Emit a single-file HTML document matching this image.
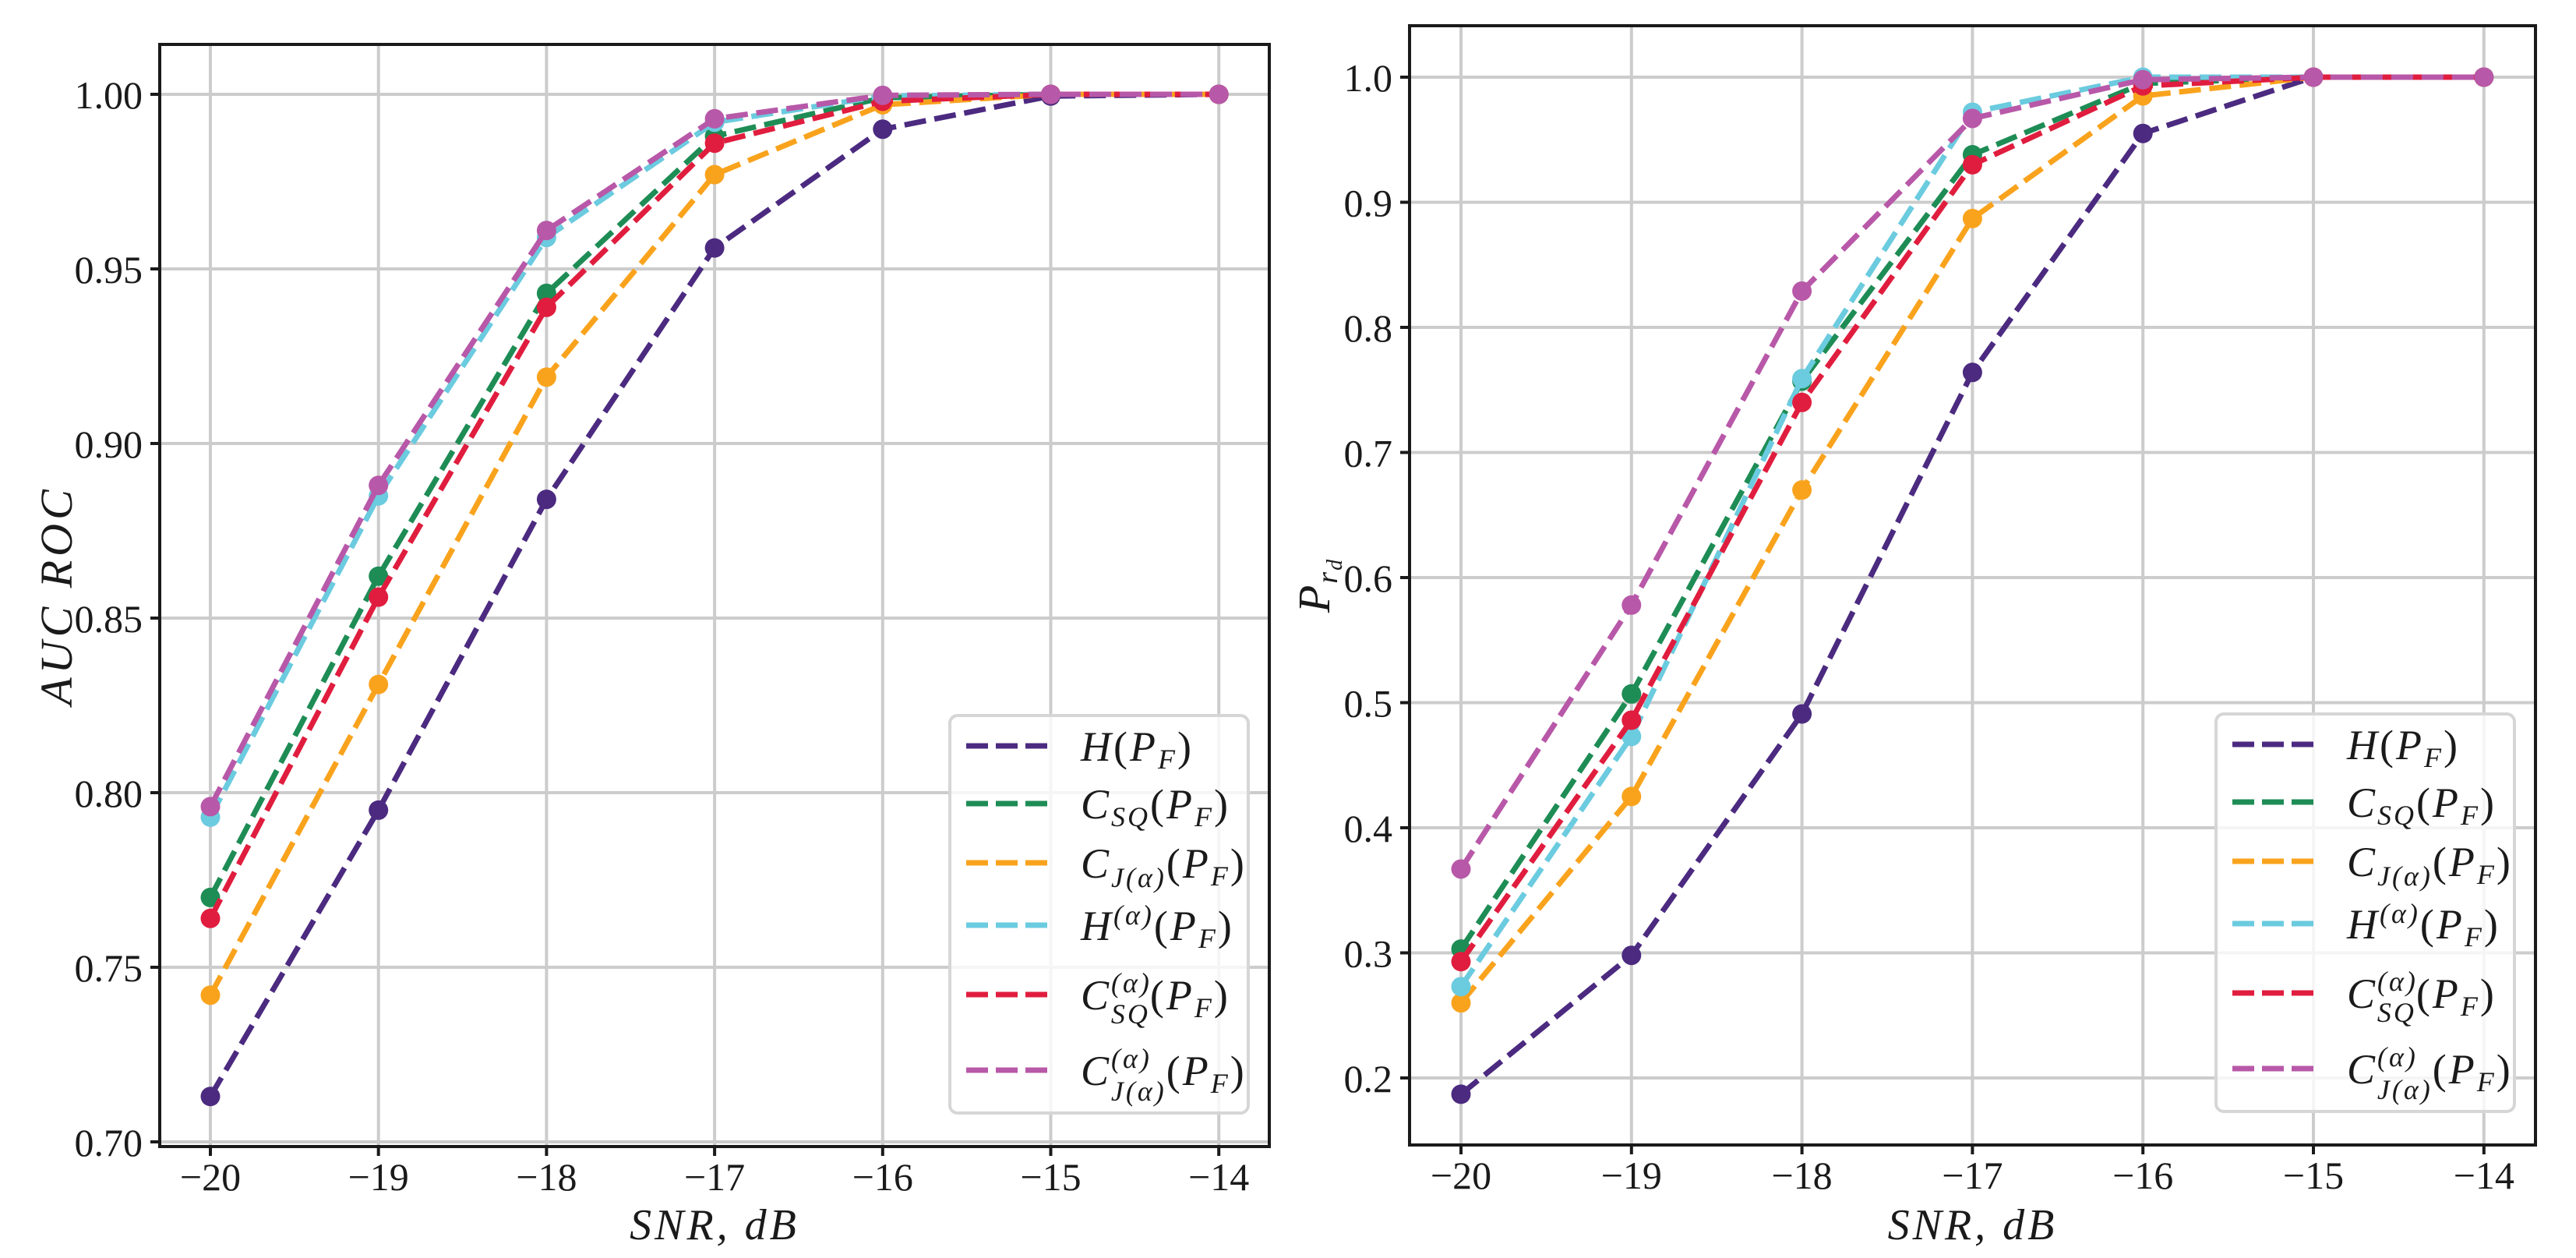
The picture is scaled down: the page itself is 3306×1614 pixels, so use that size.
<!DOCTYPE html>
<html><head><meta charset="utf-8">
<style>
html,body{margin:0;padding:0;background:#fff;}
svg{display:block;}
text{font-family:"Liberation Serif",serif;fill:#1a1a1a;}
</style></head>
<body>
<svg id="fig" width="3306" height="1614" viewBox="0 0 3306 1614" xmlns="http://www.w3.org/2000/svg">
<rect x="0" y="0" width="3306" height="1614" fill="#fff"/>
<g id="left"></g>
<g id="right"></g>
</svg>
<script>
const snr = [-20, -19, -18, -17, -16, -15, -14];
const xTicks = [-20, -19, -18, -17, -16, -15, -14];
const seriesNames = ["H", "CSQ", "CJ", "Ha", "CSQa", "CJa"];
const seriesColors = ["#4b2a80", "#1e8c55", "#f9a31d", "#6bcbdf", "#e01d3e", "#b858a8"];
const aucH    = [0.713, 0.795, 0.884, 0.956, 0.990, 0.9995, 1.0];
const aucCSQ  = [0.770, 0.862, 0.943, 0.988, 0.999, 1.0, 1.0];
const aucCJ   = [0.742, 0.831, 0.919, 0.977, 0.997, 1.0, 1.0];
const aucHa   = [0.793, 0.885, 0.959, 0.992, 0.9995, 1.0, 1.0];
const aucCSQa = [0.764, 0.856, 0.939, 0.986, 0.998, 1.0, 1.0];
const aucCJa  = [0.796, 0.888, 0.961, 0.993, 0.9997, 1.0, 1.0];
const pdH    = [0.187, 0.298, 0.491, 0.764, 0.955, 1.0, 1.0];
const pdCSQ  = [0.303, 0.507, 0.757, 0.938, 0.995, 1.0, 1.0];
const pdCJ   = [0.260, 0.425, 0.670, 0.887, 0.985, 1.0, 1.0];
const pdHa   = [0.273, 0.473, 0.759, 0.972, 1.0, 1.0, 1.0];
const pdCSQa = [0.293, 0.486, 0.740, 0.930, 0.993, 1.0, 1.0];
const pdCJa  = [0.367, 0.578, 0.829, 0.967, 0.998, 1.0, 1.0];
const aucTicks = [0.70, 0.75, 0.80, 0.85, 0.90, 0.95, 1.00];
const aucTickLabels = ["0.70", "0.75", "0.80", "0.85", "0.90", "0.95", "1.00"];
const pdTicks = [0.2, 0.3, 0.4, 0.5, 0.6, 0.7, 0.8, 0.9, 1.0];
const pdTickLabels = ["0.2", "0.3", "0.4", "0.5", "0.6", "0.7", "0.8", "0.9", "1.0"];

const NS = "http://www.w3.org/2000/svg";
function mk(parent, tag, attrs) {
  const e = document.createElementNS(NS, tag);
  for (const k in attrs) e.setAttribute(k, attrs[k]);
  parent.appendChild(e);
  return e;
}

function legendLabel(t, i, x, y) {
  const parts = {
    0: '<tspan font-style="italic">H</tspan><tspan font-style="normal">(</tspan><tspan font-style="italic">P</tspan><tspan font-size="36" dy="10" font-style="italic">F</tspan><tspan dy="-10" font-style="normal">)</tspan>',
    1: '<tspan font-style="italic">C</tspan><tspan font-size="36" dy="10" font-style="italic">SQ</tspan><tspan dy="-10" font-style="normal">(</tspan><tspan font-style="italic">P</tspan><tspan font-size="36" dy="10" font-style="italic">F</tspan><tspan dy="-10" font-style="normal">)</tspan>',
    2: '<tspan font-style="italic">C</tspan><tspan font-size="36" dy="12" font-style="italic">J(α)</tspan><tspan dy="-12" font-style="normal">(</tspan><tspan font-style="italic">P</tspan><tspan font-size="36" dy="10" font-style="italic">F</tspan><tspan dy="-10" font-style="normal">)</tspan>',
    3: '<tspan font-style="italic">H</tspan><tspan font-size="36" dy="-20" font-style="italic">(α)</tspan><tspan dy="20" font-style="normal">(</tspan><tspan font-style="italic">P</tspan><tspan font-size="36" dy="10" font-style="italic">F</tspan><tspan dy="-10" font-style="normal">)</tspan>',
    4: '<tspan font-style="italic">C</tspan><tspan font-size="36" dy="-22" font-style="italic">(α)</tspan><tspan font-size="36" dx="-52" dy="40" font-style="italic">SQ</tspan><tspan dy="-18" font-style="normal">(</tspan><tspan font-style="italic">P</tspan><tspan font-size="36" dy="10" font-style="italic">F</tspan><tspan dy="-10" font-style="normal">)</tspan>',
    5: '<tspan font-style="italic">C</tspan><tspan font-size="36" dy="-22" font-style="italic">(α)</tspan><tspan font-size="36" dx="-52" dy="42" font-style="italic">J(α)</tspan><tspan dy="-20" font-style="normal">(</tspan><tspan font-style="italic">P</tspan><tspan font-size="36" dy="10" font-style="italic">F</tspan><tspan dy="-10" font-style="normal">)</tspan>'
  };
  const el = mk(t, "text", {x: x, y: y, "font-size": 54, "letter-spacing": 3});
  el.innerHTML = parts[i];
  return el;
}

function drawChart(g, cfg) {
  const L = cfg.left, R = cfg.right, T = cfg.top, B = cfg.bottom;
  const xs = v => cfg.x0px + (v - xTicks[0]) * cfg.xUnit;
  const ys = v => cfg.yRefPx - (v - cfg.yRef) * cfg.yUnit;
  const grid = mk(g, "g", {});
  
  
  xTicks.forEach(v => {
    mk(grid, "line", {x1: xs(v), x2: xs(v), y1: T, y2: B, stroke: "#cccccc", "stroke-width": 4});
  });
  cfg.yTicks.forEach(v => {
    mk(grid, "line", {x1: L, x2: R, y1: ys(v), y2: ys(v), stroke: "#cccccc", "stroke-width": 4});
  });
  cfg.series.forEach((vals, i) => {
    const sg = mk(g, "g", {});
    
    
    const pts = vals.map((v, j) => xs(snr[j]) + "," + ys(v)).join(" ");
    mk(sg, "polyline", {points: pts, fill: "none", stroke: seriesColors[i], "stroke-width": 7, "stroke-dasharray": "28 11", "stroke-linejoin": "round"});
    vals.forEach((v, j) => {
      const c = mk(sg, "circle", {cx: xs(snr[j]), cy: ys(v), r: 12.5, fill: seriesColors[i]});
      
      
    });
  });
  const fr = mk(g, "rect", {x: L, y: T, width: R - L, height: B - T, fill: "none", stroke: "#1a1a1a", "stroke-width": 4});
  
  
  xTicks.forEach(v => {
    mk(g, "line", {x1: xs(v), x2: xs(v), y1: B, y2: B + 12, stroke: "#1a1a1a", "stroke-width": 4});
    const t = mk(g, "text", {x: xs(v), y: B + 56, "font-size": 50, "text-anchor": "middle"});
    t.textContent = "\u2212" + Math.abs(v);
    
    
  });
  cfg.yTicks.forEach((v, k) => {
    mk(g, "line", {x1: L - 12, x2: L, y1: ys(v), y2: ys(v), stroke: "#1a1a1a", "stroke-width": 4});
    const t = mk(g, "text", {x: L - 22, y: ys(v) + 18, "font-size": 50, "text-anchor": "end"});
    t.textContent = cfg.yLabels[k];
    
    
  });
  const xt = mk(g, "text", {x: (L + R) / 2, y: 1590, "font-size": 56, "font-style": "italic", "text-anchor": "middle", "letter-spacing": 4});
  xt.textContent = "SNR, dB";
  
  
  const yt = mk(g, "text", {x: 0, y: 0, "font-size": cfg.yTitleSize, "font-style": "italic", "text-anchor": "middle", "letter-spacing": cfg.yTitleSpacing, transform: "translate(" + cfg.yTitleX + "," + (T + B) / 2 + ") rotate(-90)"});
  yt.innerHTML = cfg.yTitle;
  
  
  const lg = mk(g, "g", {});
  
  
  const lr = R - 27, lb = B - 43, lt = lb - 510, ll = lr - 383;
  mk(lg, "rect", {x: ll, y: lt, width: lr - ll, height: lb - lt, rx: 10, fill: "#ffffff", "fill-opacity": 0.8, stroke: "#d6d6d6", "stroke-width": 4});
  const offs = [-471, -397, -321, -241, -152, -55];
  offs.forEach((o, i) => {
    const e = mk(lg, "g", {});
    
    
    const y = lb + o;
    mk(e, "line", {x1: ll + 21, x2: ll + 125, y1: y, y2: y, stroke: seriesColors[i], "stroke-width": 7, "stroke-dasharray": "28 10"});
    legendLabel(e, i, ll + 168, y + 19);
  });
}

drawChart(document.getElementById("left"), {
  left: 205, right: 1629, top: 57, bottom: 1471,
  x0px: 270, xUnit: 215.7, yRef: 1.0, yRefPx: 121, yUnit: 4480,
  yTicks: aucTicks, yLabels: aucTickLabels,
  series: [aucH, aucCSQ, aucCJ, aucHa, aucCSQa, aucCJa],
  yTitleX: 92, yTitle: "AUC ROC", yTitleSize: 58, yTitleSpacing: 5
});
drawChart(document.getElementById("right"), {
  left: 1809, right: 3254, top: 33, bottom: 1469,
  x0px: 1875, xUnit: 218.8, yRef: 1.0, yRefPx: 99, yUnit: 1605,
  yTicks: pdTicks, yLabels: pdTickLabels,
  series: [pdH, pdCSQ, pdCJ, pdHa, pdCSQa, pdCJa],
  yTitleX: 1706, yTitle: 'P<tspan font-size="38" dy="10">r</tspan><tspan font-size="28" dy="6">d</tspan>', yTitleSize: 58, yTitleSpacing: 2
});
</script>
</body></html>
